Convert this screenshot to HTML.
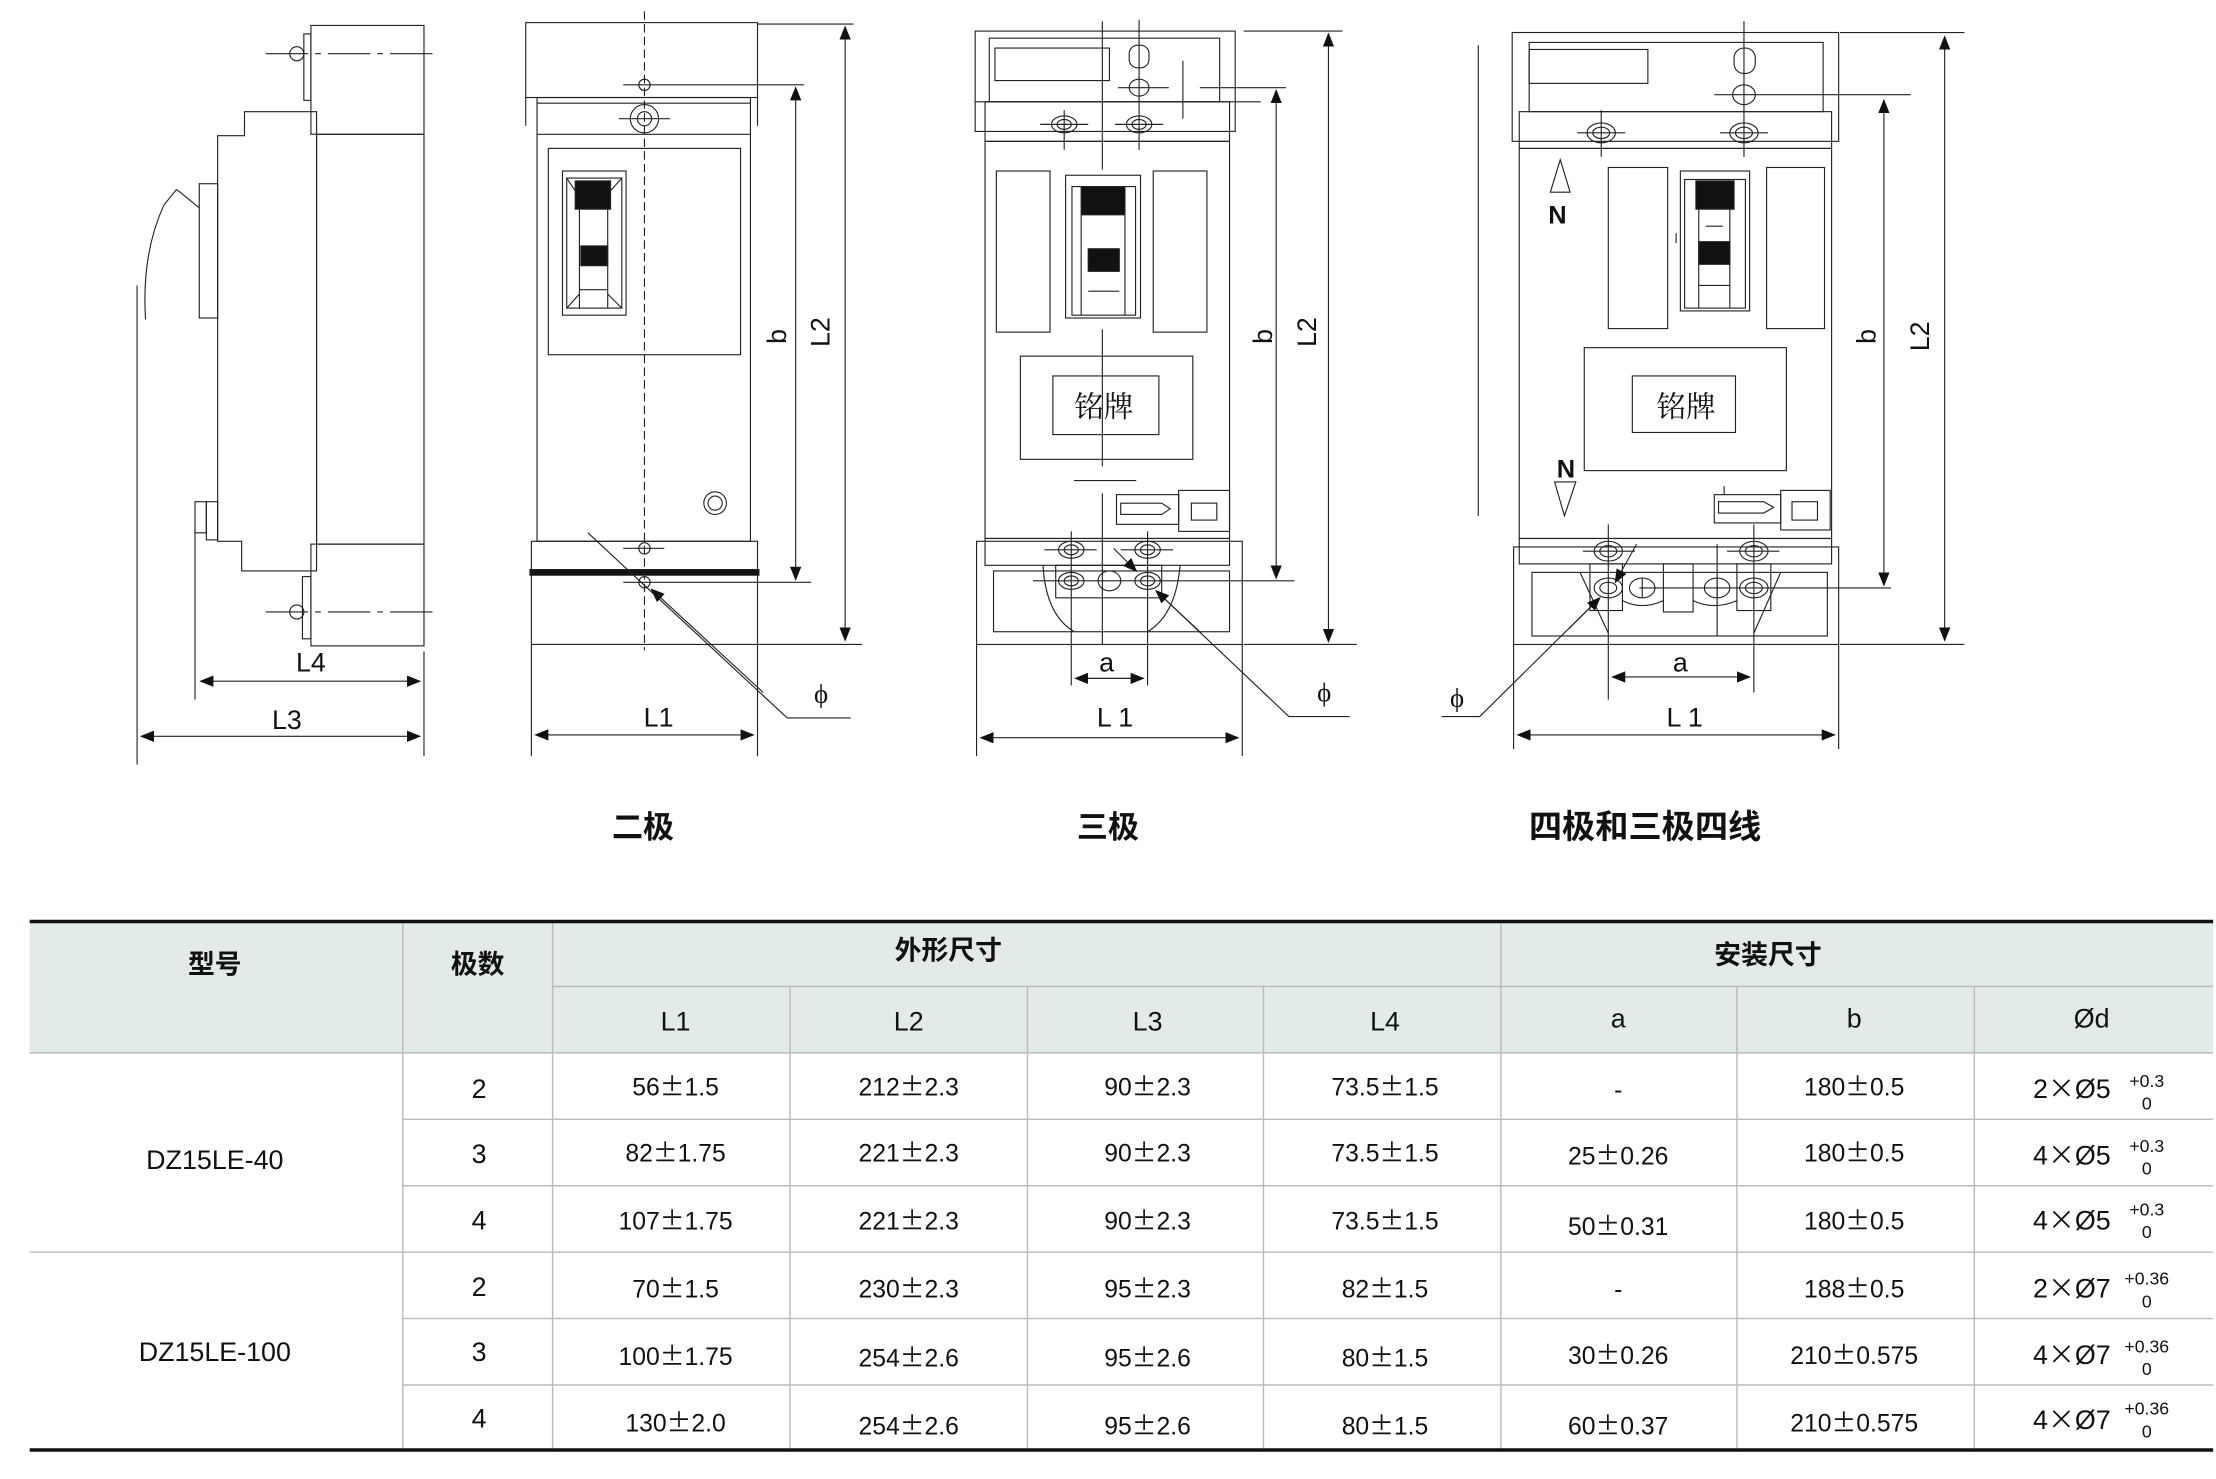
<!DOCTYPE html>
<html><head><meta charset="utf-8"><style>
html,body{margin:0;padding:0;background:#fff;}
svg{display:block}
text{font-family:"Liberation Sans","Noto Sans CJK SC",sans-serif;fill:#111}
.t{font-size:17.5px;text-anchor:middle}
.h{font-size:19px;font-weight:bold;text-anchor:middle;font-family:"Noto Sans CJK SC",sans-serif}
.pm{font-family:"WenQuanYi Zen Hei","Noto Sans CJK SC",sans-serif}
</style></head><body>
<svg width="2216" height="1479" viewBox="0 0 1568 1046.5" xmlns="http://www.w3.org/2000/svg">
<defs>
<marker id="ar" markerWidth="10" markerHeight="8" refX="9" refY="4" orient="auto-start-reverse" markerUnits="userSpaceOnUse"><path d="M0,0 L10,4 L0,8 z" fill="#111"/></marker>
</defs>
<g fill="none" stroke="#222" stroke-width="0.8">
<!-- SIDE VIEW -->
<rect x="220" y="18" width="80" height="77"/>
<rect x="215" y="24" width="5" height="47"/>
<circle cx="210" cy="38" r="5"/>
<line x1="188" y1="38" x2="309" y2="38" stroke-dasharray="30,5,4,5"/>
<rect x="224" y="95" width="76" height="290"/>
<rect x="220" y="385" width="80" height="72"/>
<rect x="214" y="408" width="6" height="44"/>
<circle cx="210" cy="433" r="5"/>
<line x1="188" y1="433" x2="309" y2="433" stroke-dasharray="30,5,4,5"/>
<polygon points="224,79 173,79 173,96 154,96 154,383 171,383 171,404 224,404"/>
<rect x="141" y="130" width="13" height="95"/>
<line x1="125" y1="134" x2="141" y2="147"/>
<line x1="125" y1="134" x2="116" y2="145"/>
<path d="M116,145 Q100,180 103,226"/>
<rect x="138" y="355" width="8" height="22"/>
<rect x="146" y="355" width="8" height="27"/>
<line x1="138" y1="377" x2="138" y2="495"/>
<line x1="97" y1="202" x2="97" y2="541"/>
<line x1="300" y1="461" x2="300" y2="535"/>
<line x1="142" y1="482" x2="297" y2="482" marker-start="url(#ar)" marker-end="url(#ar)"/>
<line x1="100" y1="521" x2="297" y2="521" marker-start="url(#ar)" marker-end="url(#ar)"/>

<!-- 2 POLE -->
<rect x="372" y="16" width="164" height="53"/>
<line x1="372" y1="69" x2="372" y2="89"/><line x1="536" y1="69" x2="536" y2="89"/>
<rect x="380" y="69" width="151" height="314"/>
<line x1="380" y1="95" x2="531" y2="95"/>
<line x1="380" y1="73" x2="531" y2="73"/>
<circle cx="456" cy="60" r="4"/>
<line x1="441" y1="60" x2="569" y2="60"/>
<circle cx="456" cy="84" r="10"/><circle cx="456" cy="84" r="5"/>
<line x1="438" y1="84" x2="474" y2="84"/>
<rect x="388" y="105" width="136" height="146"/>
<rect x="398" y="121" width="45" height="102"/>
<rect x="401" y="126" width="39" height="92"/>
<rect x="407" y="128" width="25" height="20" fill="#111"/>
<rect x="411" y="174" width="19" height="14" fill="#111"/>
<line x1="410" y1="148" x2="410" y2="218"/><line x1="430" y1="148" x2="430" y2="218"/>
<line x1="410" y1="205" x2="430" y2="205"/>
<line x1="401" y1="126" x2="407" y2="135"/><line x1="440" y1="126" x2="432" y2="135"/>
<line x1="401" y1="218" x2="410" y2="208"/><line x1="440" y1="218" x2="430" y2="208"/>
<circle cx="506" cy="356" r="8"/><circle cx="506" cy="356" r="5"/>
<rect x="376" y="383" width="160" height="21"/>
<rect x="375" y="403" width="162" height="4" fill="#111"/>
<circle cx="456" cy="388" r="4"/><line x1="441" y1="388" x2="470" y2="388"/>
<circle cx="456" cy="412" r="4"/>
<line x1="441" y1="412" x2="574" y2="412"/>
<line x1="376" y1="407" x2="376" y2="535"/><line x1="536" y1="407" x2="536" y2="535"/>
<line x1="376" y1="456" x2="610" y2="456"/>
<line x1="536" y1="17" x2="604" y2="17"/>
<line x1="456" y1="8" x2="456" y2="460" stroke-dasharray="6,3"/>
<line x1="563" y1="62" x2="563" y2="410" marker-start="url(#ar)" marker-end="url(#ar)"/>
<line x1="598" y1="19" x2="598" y2="453" marker-start="url(#ar)" marker-end="url(#ar)"/>
<polyline points="416,377 557,508 602,508"/>
<line x1="540" y1="490" x2="461" y2="417" marker-end="url(#ar)"/>
<line x1="379" y1="520" x2="533" y2="520" marker-start="url(#ar)" marker-end="url(#ar)"/>

<!-- 3 POLE -->
<rect x="690" y="22" width="184" height="71"/>
<rect x="700" y="27" width="163" height="45"/>
<rect x="704" y="34" width="81" height="23"/>
<rect x="799" y="32" width="14" height="16" rx="6"/>
<ellipse cx="806" cy="62" rx="7" ry="6"/>
<rect x="697" y="72" width="173" height="28"/>
<rect x="697" y="100" width="173" height="281"/>
<ellipse cx="753" cy="88" rx="9" ry="6"/><ellipse cx="753" cy="88" rx="5" ry="3.5"/>
<ellipse cx="806" cy="88" rx="9" ry="6"/><ellipse cx="806" cy="88" rx="5" ry="3.5"/>
<line x1="736" y1="88" x2="770" y2="88"/><line x1="789" y1="88" x2="823" y2="88"/>
<line x1="753" y1="78" x2="753" y2="106"/>
<line x1="780" y1="15" x2="780" y2="120"/>
<line x1="806" y1="14" x2="806" y2="106"/>
<line x1="837" y1="43" x2="837" y2="84"/>
<line x1="791" y1="62" x2="827" y2="62"/><line x1="849" y1="62" x2="910" y2="62"/>
<line x1="690" y1="72" x2="892" y2="72"/>
<rect x="705" y="121" width="38" height="114"/>
<rect x="816" y="121" width="38" height="114"/>
<rect x="754" y="124" width="53" height="101"/>
<rect x="758.5" y="132" width="45" height="91"/>
<rect x="765" y="132" width="31" height="20" fill="#111"/>
<rect x="770" y="176" width="22" height="16" fill="#111"/>
<line x1="765" y1="152" x2="765" y2="223"/><line x1="796" y1="152" x2="796" y2="223"/>
<line x1="770" y1="206" x2="792" y2="206"/>
<line x1="780" y1="233" x2="780" y2="330"/>
<rect x="722" y="252" width="122" height="73"/>
<rect x="745" y="266" width="75" height="41.5"/>
<line x1="760" y1="340" x2="804" y2="340"/>
<line x1="780" y1="349" x2="780" y2="456"/>
<rect x="790" y="350" width="44" height="21"/>
<path d="M793,356 L822,356 L828,360 L822,364 L793,364 z"/>
<rect x="834" y="347" width="36" height="29"/>
<rect x="843" y="356" width="18" height="12"/>
<rect x="697" y="381" width="173" height="19"/>
<rect x="691" y="383" width="188" height="73"/>
<rect x="703" y="404" width="167" height="43"/>
<path d="M738,400 Q740,435 760,447"/><path d="M835,400 Q832,435 812,447"/>
<rect x="747" y="400" width="75" height="23"/>
<ellipse cx="758" cy="389" rx="9" ry="6"/><ellipse cx="758" cy="389" rx="5" ry="3.5"/>
<ellipse cx="812" cy="389" rx="9" ry="6"/><ellipse cx="812" cy="389" rx="5" ry="3.5"/>
<line x1="739" y1="389" x2="776" y2="389"/><line x1="793" y1="389" x2="830" y2="389"/>
<ellipse cx="758" cy="411" rx="9" ry="6"/><ellipse cx="758" cy="411" rx="5" ry="3.5"/>
<ellipse cx="812" cy="411" rx="9" ry="6"/><ellipse cx="812" cy="411" rx="5" ry="3.5"/>
<ellipse cx="785" cy="411" rx="8" ry="7"/>
<line x1="731" y1="411" x2="916" y2="411"/>
<line x1="758" y1="376" x2="758" y2="485"/><line x1="812" y1="376" x2="812" y2="485"/>
<line x1="691" y1="456" x2="691" y2="535"/><line x1="879" y1="456" x2="879" y2="535"/>
<line x1="880" y1="22" x2="950" y2="22"/><line x1="880" y1="456" x2="960" y2="456"/>
<line x1="903" y1="64" x2="903" y2="409" marker-start="url(#ar)" marker-end="url(#ar)"/>
<line x1="940" y1="24" x2="940" y2="454" marker-start="url(#ar)" marker-end="url(#ar)"/>
<line x1="788" y1="388" x2="804" y2="404" marker-end="url(#ar)"/>
<polyline points="955,507 912,507 818,418"/>
<line x1="850" y1="448" x2="818" y2="418" marker-end="url(#ar)"/>
<line x1="761" y1="480" x2="809" y2="480" marker-start="url(#ar)" marker-end="url(#ar)"/>
<line x1="694" y1="522" x2="876" y2="522" marker-start="url(#ar)" marker-end="url(#ar)"/>

<!-- 4 POLE -->
<rect x="1070" y="23" width="231" height="77"/>
<rect x="1082" y="30" width="208" height="49"/>
<rect x="1082" y="35" width="84" height="24"/>
<rect x="1227" y="34" width="15" height="18" rx="7"/>
<ellipse cx="1234" cy="67" rx="8" ry="7"/>
<line x1="1213" y1="67" x2="1352" y2="67"/>
<line x1="1234" y1="15" x2="1234" y2="111"/>
<rect x="1075" y="79" width="221" height="26"/>
<rect x="1075" y="105" width="221" height="276"/>
<ellipse cx="1133" cy="94" rx="10" ry="7"/><ellipse cx="1133" cy="94" rx="6" ry="4"/>
<ellipse cx="1234" cy="94" rx="10" ry="7"/><ellipse cx="1234" cy="94" rx="6" ry="4"/>
<line x1="1116" y1="94" x2="1150" y2="94"/><line x1="1217" y1="94" x2="1251" y2="94"/>
<line x1="1133" y1="78" x2="1133" y2="111"/>
<polygon points="1104,113 1097,136 1111,136"/>
<polygon points="1100,341 1115,341 1107,365"/>
<rect x="1138" y="118.5" width="42" height="114"/>
<rect x="1250" y="118.5" width="41" height="114"/>
<rect x="1189" y="121" width="49" height="99"/>
<rect x="1192" y="127" width="43" height="91"/>
<rect x="1200" y="128" width="27" height="20" fill="#111"/>
<rect x="1202" y="171" width="22" height="16" fill="#111"/>
<line x1="1202" y1="148" x2="1202" y2="218"/><line x1="1224" y1="148" x2="1224" y2="218"/>
<line x1="1202" y1="202" x2="1224" y2="202"/>
<line x1="1207" y1="160" x2="1219" y2="160"/>
<line x1="1186" y1="165" x2="1186" y2="172"/>
<rect x="1121" y="246" width="143" height="87"/>
<rect x="1155" y="266" width="73" height="40"/>
<rect x="1213" y="350" width="47" height="20"/>
<path d="M1216,355 L1248,355 L1255,359 L1248,363 L1216,363 z"/>
<line x1="1220" y1="344" x2="1220" y2="350"/>
<rect x="1260" y="347" width="35" height="28"/>
<rect x="1268" y="355" width="18" height="13"/>
<rect x="1075" y="381" width="221" height="18"/>
<rect x="1071" y="387" width="230" height="69"/>
<rect x="1084" y="405" width="209" height="45"/>
<rect x="1125" y="399" width="23" height="33"/>
<rect x="1229" y="399" width="24" height="33"/>
<rect x="1177" y="399" width="21" height="34"/>
<path d="M1148,425 Q1162,432 1177,425"/><path d="M1198,425 Q1213,432 1229,425"/>
<line x1="1118" y1="405" x2="1138" y2="448"/><line x1="1260" y1="405" x2="1241" y2="448"/>
<ellipse cx="1138" cy="390" rx="10" ry="7"/><ellipse cx="1138" cy="390" rx="6" ry="4"/>
<ellipse cx="1241" cy="390" rx="10" ry="7"/><ellipse cx="1241" cy="390" rx="6" ry="4"/>
<line x1="1120" y1="390" x2="1157" y2="390"/><line x1="1222" y1="390" x2="1259" y2="390"/>
<ellipse cx="1138" cy="416" rx="10" ry="7"/><ellipse cx="1138" cy="416" rx="6" ry="4"/>
<ellipse cx="1241" cy="416" rx="10" ry="7"/><ellipse cx="1241" cy="416" rx="6" ry="4"/>
<ellipse cx="1162" cy="416" rx="9" ry="7"/><ellipse cx="1215" cy="416" rx="9" ry="7"/>
<line x1="1162" y1="409" x2="1162" y2="423"/><line x1="1215" y1="409" x2="1215" y2="423"/>
<line x1="1215" y1="385" x2="1215" y2="450"/>
<line x1="1160" y1="416" x2="1338" y2="416"/>
<line x1="1138" y1="371" x2="1138" y2="495"/><line x1="1241" y1="371" x2="1241" y2="490"/>
<line x1="1071" y1="456" x2="1071" y2="530"/><line x1="1301" y1="456" x2="1301" y2="530"/>
<line x1="1302" y1="23" x2="1390" y2="23"/><line x1="1302" y1="456" x2="1390" y2="456"/>
<line x1="1046" y1="32" x2="1046" y2="365"/>
<line x1="1333" y1="71" x2="1333" y2="414" marker-start="url(#ar)" marker-end="url(#ar)"/>
<line x1="1376" y1="26" x2="1376" y2="453" marker-start="url(#ar)" marker-end="url(#ar)"/>
<line x1="1158" y1="385" x2="1143" y2="412" marker-end="url(#ar)"/>
<polyline points="1020,507 1047,507 1130,425"/>
<line x1="1110" y1="445" x2="1132" y2="423" marker-end="url(#ar)"/>
<line x1="1141" y1="479" x2="1238" y2="479" marker-start="url(#ar)" marker-end="url(#ar)"/>
<line x1="1074" y1="520" x2="1298" y2="520" marker-start="url(#ar)" marker-end="url(#ar)"/>
</g>

<!-- drawing labels -->
<g style="font-size:19px">
<text x="220" y="475" text-anchor="middle">L4</text>
<text x="203" y="516" text-anchor="middle">L3</text>
<text x="466" y="514" text-anchor="middle">L1</text>
<text x="789" y="514" text-anchor="middle">L 1</text>
<text x="1192" y="514" text-anchor="middle">L 1</text>
<text x="783" y="475" text-anchor="middle">a</text>
<text x="1189" y="475" text-anchor="middle">a</text>
<text transform="translate(556,238) rotate(-90)" text-anchor="middle">b</text>
<text transform="translate(587,235) rotate(-90)" text-anchor="middle">L2</text>
<text transform="translate(900,238) rotate(-90)" text-anchor="middle">b</text>
<text transform="translate(931,235) rotate(-90)" text-anchor="middle">L2</text>
<text transform="translate(1327,238) rotate(-90)" text-anchor="middle">b</text>
<text transform="translate(1365,238) rotate(-90)" text-anchor="middle">L2</text>
<text x="581" y="497" text-anchor="middle" style="font-family:'Liberation Serif',serif">ϕ</text>
<text x="937" y="496" text-anchor="middle" style="font-family:'Liberation Serif',serif">ϕ</text>
<text x="1031" y="500" text-anchor="middle" style="font-family:'Liberation Serif',serif">ϕ</text>
<text x="1102" y="158" text-anchor="middle" style="font-weight:bold;font-size:18px">N</text>
<text x="1108" y="338" text-anchor="middle" style="font-weight:bold;font-size:18px">N</text>
<text x="781" y="295" text-anchor="middle" style="font-family:'Noto Serif CJK SC',serif;font-size:21px">铭牌</text>
<text x="1193" y="295" text-anchor="middle" style="font-family:'Noto Serif CJK SC',serif;font-size:21px">铭牌</text>
</g>
<text x="455" y="593" class="h" style="font-size:22px">二极</text>
<text x="784" y="593" class="h" style="font-size:22px">三极</text>
<text x="1164" y="593" class="h" style="font-size:23.5px">四极和三极四线</text>

<!-- TABLE -->
<rect x="21" y="652" width="1545" height="93" fill="#e3eaea"/>
<g stroke="#bbb" stroke-width="1">
<line x1="391" y1="698" x2="1566" y2="698"/>
<line x1="21" y1="745" x2="1566" y2="745"/>
<line x1="285" y1="792" x2="1566" y2="792"/>
<line x1="285" y1="839" x2="1566" y2="839"/>
<line x1="21" y1="886" x2="1566" y2="886"/>
<line x1="285" y1="933" x2="1566" y2="933"/>
<line x1="285" y1="980" x2="1566" y2="980"/>
<line x1="285" y1="652" x2="285" y2="1026"/>
<line x1="391" y1="652" x2="391" y2="1026"/>
<line x1="1062" y1="652" x2="1062" y2="1026"/>
<line x1="559" y1="698" x2="559" y2="1026"/>
<line x1="727" y1="698" x2="727" y2="1026"/>
<line x1="894" y1="698" x2="894" y2="1026"/>
<line x1="1229" y1="698" x2="1229" y2="1026"/>
<line x1="1397" y1="698" x2="1397" y2="1026"/>
</g>
<line x1="21" y1="652" x2="1566" y2="652" stroke="#111" stroke-width="2.5"/>
<line x1="21" y1="1026" x2="1566" y2="1026" stroke="#111" stroke-width="2.5"/>
<text class="h" x="152" y="689">型号</text>
<text class="h" x="338" y="689">极数</text>
<text class="h" x="671" y="679">外形尺寸</text>
<text class="h" x="1251" y="682">安装尺寸</text>
<g>
<text class="t" x="478" y="729" style="font-size:19px">L1</text><text class="t" x="643" y="729" style="font-size:19px">L2</text><text class="t" x="812" y="729" style="font-size:19px">L3</text><text class="t" x="980" y="729" style="font-size:19px">L4</text>
<text class="t" x="1145" y="727" style="font-size:19px">a</text><text class="t" x="1312" y="727" style="font-size:19px">b</text><text class="t" x="1480" y="727" style="font-size:19px">Ød</text>
<text class="t" x="152" y="827" style="font-size:19px">DZ15LE-40</text>
<text class="t" x="152" y="963" style="font-size:19px">DZ15LE-100</text>

<text class="t" x="339" y="777" style="font-size:19px">2</text><text class="t" x="478" y="775">56<tspan class="pm">±</tspan>1.5</text><text class="t" x="643" y="775">212<tspan class="pm">±</tspan>2.3</text><text class="t" x="812" y="775">90<tspan class="pm">±</tspan>2.3</text><text class="t" x="980" y="775">73.5<tspan class="pm">±</tspan>1.5</text><text class="t" x="1145" y="777">-</text><text class="t" x="1312" y="775">180<tspan class="pm">±</tspan>0.5</text>
<text class="t" x="339" y="823" style="font-size:19px">3</text><text class="t" x="478" y="822">82<tspan class="pm">±</tspan>1.75</text><text class="t" x="643" y="822">221<tspan class="pm">±</tspan>2.3</text><text class="t" x="812" y="822">90<tspan class="pm">±</tspan>2.3</text><text class="t" x="980" y="822">73.5<tspan class="pm">±</tspan>1.5</text><text class="t" x="1145" y="824">25<tspan class="pm">±</tspan>0.26</text><text class="t" x="1312" y="822">180<tspan class="pm">±</tspan>0.5</text>
<text class="t" x="339" y="870" style="font-size:19px">4</text><text class="t" x="478" y="870">107<tspan class="pm">±</tspan>1.75</text><text class="t" x="643" y="870">221<tspan class="pm">±</tspan>2.3</text><text class="t" x="812" y="870">90<tspan class="pm">±</tspan>2.3</text><text class="t" x="980" y="870">73.5<tspan class="pm">±</tspan>1.5</text><text class="t" x="1145" y="874">50<tspan class="pm">±</tspan>0.31</text><text class="t" x="1312" y="870">180<tspan class="pm">±</tspan>0.5</text>
<text class="t" x="339" y="917" style="font-size:19px">2</text><text class="t" x="478" y="918">70<tspan class="pm">±</tspan>1.5</text><text class="t" x="643" y="918">230<tspan class="pm">±</tspan>2.3</text><text class="t" x="812" y="918">95<tspan class="pm">±</tspan>2.3</text><text class="t" x="980" y="918">82<tspan class="pm">±</tspan>1.5</text><text class="t" x="1145" y="918">-</text><text class="t" x="1312" y="918">188<tspan class="pm">±</tspan>0.5</text>
<text class="t" x="339" y="963" style="font-size:19px">3</text><text class="t" x="478" y="966">100<tspan class="pm">±</tspan>1.75</text><text class="t" x="643" y="967">254<tspan class="pm">±</tspan>2.6</text><text class="t" x="812" y="967">95<tspan class="pm">±</tspan>2.6</text><text class="t" x="980" y="967">80<tspan class="pm">±</tspan>1.5</text><text class="t" x="1145" y="965">30<tspan class="pm">±</tspan>0.26</text><text class="t" x="1312" y="965">210<tspan class="pm">±</tspan>0.575</text>
<text class="t" x="339" y="1010" style="font-size:19px">4</text><text class="t" x="478" y="1013">130<tspan class="pm">±</tspan>2.0</text><text class="t" x="643" y="1015">254<tspan class="pm">±</tspan>2.6</text><text class="t" x="812" y="1015">95<tspan class="pm">±</tspan>2.6</text><text class="t" x="980" y="1015">80<tspan class="pm">±</tspan>1.5</text><text class="t" x="1145" y="1015">60<tspan class="pm">±</tspan>0.37</text><text class="t" x="1312" y="1013">210<tspan class="pm">±</tspan>0.575</text>

<text class="t" x="1466" y="777" style="font-size:19px">2<tspan class="pm">×</tspan>Ø5</text><text x="1519" y="769" style="font-size:12.5px;text-anchor:middle">+0.3</text><text x="1519" y="785" style="font-size:12.5px;text-anchor:middle">0</text>
<text class="t" x="1466" y="824" style="font-size:19px">4<tspan class="pm">×</tspan>Ø5</text><text x="1519" y="815" style="font-size:12.5px;text-anchor:middle">+0.3</text><text x="1519" y="831" style="font-size:12.5px;text-anchor:middle">0</text>
<text class="t" x="1466" y="870" style="font-size:19px">4<tspan class="pm">×</tspan>Ø5</text><text x="1519" y="860" style="font-size:12.5px;text-anchor:middle">+0.3</text><text x="1519" y="876" style="font-size:12.5px;text-anchor:middle">0</text>
<text class="t" x="1466" y="918" style="font-size:19px">2<tspan class="pm">×</tspan>Ø7</text><text x="1519" y="909" style="font-size:12.5px;text-anchor:middle">+0.36</text><text x="1519" y="925" style="font-size:12.5px;text-anchor:middle">0</text>
<text class="t" x="1466" y="965" style="font-size:19px">4<tspan class="pm">×</tspan>Ø7</text><text x="1519" y="957" style="font-size:12.5px;text-anchor:middle">+0.36</text><text x="1519" y="973" style="font-size:12.5px;text-anchor:middle">0</text>
<text class="t" x="1466" y="1011" style="font-size:19px">4<tspan class="pm">×</tspan>Ø7</text><text x="1519" y="1001" style="font-size:12.5px;text-anchor:middle">+0.36</text><text x="1519" y="1017" style="font-size:12.5px;text-anchor:middle">0</text>
</g>
</svg>
</body></html>
